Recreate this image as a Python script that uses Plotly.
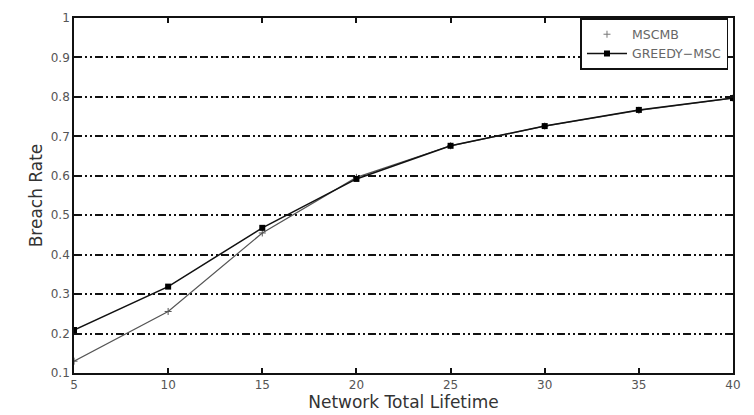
import plotly.graph_objects as go

lifetime = [5, 10, 15, 20, 25, 30, 35, 40]
mscmb = [0.13, 0.256, 0.455, 0.596, 0.676, 0.726, 0.766, 0.797]
greedy_msc = [0.209, 0.319, 0.468, 0.592, 0.676, 0.726, 0.767, 0.797]

x_ticks = [5, 10, 15, 20, 25, 30, 35, 40]
y_ticks = [0.1, 0.2, 0.3, 0.4, 0.5, 0.6, 0.7, 0.8, 0.9, 1.0]
y_tick_labels = ["0.1", "0.2", "0.3", "0.4", "0.5", "0.6", "0.7", "0.8", "0.9", "1"]

FONT = "DejaVu Sans, Liberation Sans, Arial"

fig = go.Figure()
# data lines (legend handled by legend-only entries below)
fig.add_trace(go.Scatter(
    x=lifetime, y=mscmb, name="MSCMB", mode="lines+markers", showlegend=False,
    line=dict(color="#555555", width=1.2),
    marker=dict(symbol="cross-thin", size=5, color="#555555",
                line=dict(color="#555555", width=1)),
))
fig.add_trace(go.Scatter(
    x=lifetime, y=greedy_msc, name="GREEDY\u2212MSC", mode="lines+markers", showlegend=False,
    line=dict(color="#111111", width=1.5),
    marker=dict(symbol="square", size=6, color="#000000"),
))
# legend entries as in the reference: MSCMB shows only its marker
fig.add_trace(go.Scatter(
    x=[None], y=[None], name="MSCMB", mode="markers",
    marker=dict(symbol="cross-thin", size=5, color="#777777",
                line=dict(color="#777777", width=1)),
))
fig.add_trace(go.Scatter(
    x=[None], y=[None], name="GREEDY\u2212MSC", mode="lines+markers",
    line=dict(color="#111111", width=1.5),
    marker=dict(symbol="square", size=6, color="#000000"),
))

axis_common = dict(
    showline=True, linecolor="#111111", linewidth=1.6, mirror="ticks",
    ticks="inside", ticklen=5, tickcolor="#111111", tickwidth=1.6,
    zeroline=False,
    tickfont=dict(family=FONT, size=12, color="#555555"),
)

fig.update_layout(
    width=754, height=415,
    margin=dict(l=74, r=21, t=11, b=37),
    paper_bgcolor="white", plot_bgcolor="white",
    font=dict(family=FONT, color="#333333"),
    xaxis=dict(
        range=[5, 40], tickvals=x_ticks, showgrid=False,
        title=dict(text="Network Total Lifetime", standoff=0,
                   font=dict(size=17, color="#333333")),
        **axis_common,
    ),
    yaxis=dict(
        range=[0.1, 1.0], tickvals=y_ticks, ticktext=y_tick_labels,
        showgrid=True, gridcolor="#111111", gridwidth=1.8,
        griddash="8px,3px,2px,3px,2px,3px",
        title=dict(text="Breach Rate", standoff=4,
                   font=dict(size=17, color="#333333")),
        **axis_common,
    ),
    legend=dict(
        x=0.993, y=1.0, xanchor="right", yanchor="top",
        bgcolor="white", bordercolor="#111111", borderwidth=1.6,
        font=dict(family=FONT, size=12.5, color="#666666"),
        tracegroupgap=0, itemwidth=40,
    ),
    showlegend=True,
)

fig.write_html("out.html")
